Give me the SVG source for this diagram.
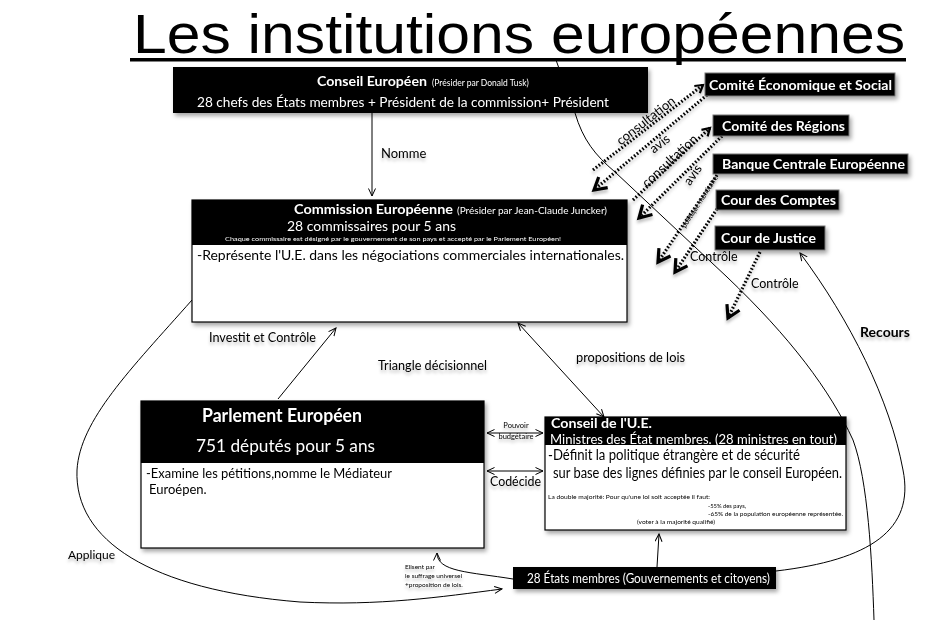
<svg xmlns="http://www.w3.org/2000/svg" width="934" height="623" viewBox="0 0 934 623">
<style>
text{font-family:Lato,"Open Sans","Liberation Sans",sans-serif;fill:#000}
text.ttl{font-family:"Liberation Sans",Arial,sans-serif}
.w{fill:#fff}
.b{font-weight:bold}
.box{fill:#fff;stroke:#000;stroke-width:1.2}
.hd{fill:#000}
.cb{fill:#000;stroke:#777;stroke-width:1}
.ln{fill:none;stroke:#000;stroke-width:1}
.dot{fill:none;stroke:#000;stroke-width:3.2;stroke-dasharray:1.6 2}
.lb{font-size:13px}
</style>
<defs>
<filter id="sh" x="-10%" y="-20%" width="130%" height="160%"><feDropShadow dx="2" dy="3" stdDeviation="2" flood-color="#000" flood-opacity="0.35"/></filter>
<filter id="tsh" x="-10%" y="-30%" width="120%" height="180%"><feDropShadow dx="0" dy="3" stdDeviation="1.5" flood-color="#000" flood-opacity="0.25"/></filter>
<marker id="a" markerUnits="userSpaceOnUse" markerWidth="10" markerHeight="10" refX="8" refY="4" orient="auto-start-reverse"><path d="M0.5,0.5 L8,4 L0.5,7.5" fill="none" stroke="#000" stroke-width="1"/></marker>
<marker id="cs" markerUnits="userSpaceOnUse" markerWidth="12" markerHeight="12" refX="9" refY="6" orient="auto"><path d="M1.5,1.5 L9,6 L1.5,10.5" fill="none" stroke="#000" stroke-width="2.2"/></marker>
<marker id="cl" markerUnits="userSpaceOnUse" markerWidth="18" markerHeight="18" refX="14" refY="9" orient="auto"><path d="M2,2 L14,9 L2,16" fill="none" stroke="#000" stroke-width="3.2"/></marker>
</defs>
<rect width="934" height="623" fill="#fff"/>

<g id="title">
<text class="ttl" x="133" y="53" font-size="56" textLength="772" lengthAdjust="spacingAndGlyphs">Les institutions européennes</text>
<rect x="130" y="58" width="776" height="3.5" fill="#000"/>
</g>

<g id="connectors">
<path class="ln" d="M556,60 L575,113 C583,140 595,155 615,172 L727,277 C790,337 830,390 853,440 C868,480 872,560 874,620"/>
<path class="ln" d="M372,113 L372,196" marker-end="url(#a)"/>
<path class="ln" d="M278,399 L336,328" marker-end="url(#a)"/>
<path class="ln" d="M518,323 L604,417" marker-start="url(#a)" marker-end="url(#a)"/>
<path class="ln" d="M487,433 L543,433" marker-start="url(#a)" marker-end="url(#a)"/>
<path class="ln" d="M487,471 L543,471" marker-start="url(#a)" marker-end="url(#a)"/>
<path class="ln" d="M657,567 L659,534" marker-end="url(#a)"/>
<path class="ln" d="M513,579 C470,572 437,572 437,553" marker-end="url(#a)"/>
<path class="ln" d="M192,300 C130,370 80,420 77,470 C74,540 150,590 300,602 C380,606 440,597 502,589" marker-end="url(#a)"/>
<path class="ln" d="M776,571 C870,560 915,530 903,470 C890,400 850,320 800,253" marker-end="url(#a)"/>
<g filter="url(#tsh)">
<path class="dot" d="M593,170 L703,85" marker-end="url(#cs)"/>
<path class="dot" d="M707,95 L594,190" marker-end="url(#cl)"/>
<path class="dot" d="M633,200 L710,128" marker-end="url(#cs)"/>
<path class="dot" d="M722,136 L639,218" marker-end="url(#cl)"/>
<path class="dot" d="M717,175 L658,262" marker-end="url(#cl)"/>
<path class="dot" d="M717,209 L675,272" marker-end="url(#cl)"/>
<path class="dot" d="M760,252 L728,318" marker-end="url(#cl)"/>
</g>
</g>

<g id="labels" filter="url(#tsh)">
<text class="lb" x="381" y="158">Nomme</text>
<text class="lb" x="209" y="342" textLength="107" lengthAdjust="spacingAndGlyphs">Investit et Contrôle</text>
<text class="lb" x="378" y="370" textLength="109" lengthAdjust="spacingAndGlyphs">Triangle décisionnel</text>
<text class="lb" x="576" y="362" textLength="109" lengthAdjust="spacingAndGlyphs">propositions de lois</text>
<text class="b" x="860" y="337" font-size="14">Recours</text>
<text x="68" y="559" font-size="12">Applique</text>
<text x="516" y="428" font-size="7.5" text-anchor="middle">Pouvoir</text>
<text x="516" y="439" font-size="7.5" text-anchor="middle">budgétaire</text>
<text x="490" y="486" font-size="14" textLength="51" lengthAdjust="spacingAndGlyphs">Codécide</text>
<text x="405" y="569" font-size="6.5">Elisent par</text>
<text x="405" y="578" font-size="6.5">le suffrage universel</text>
<text x="405" y="587" font-size="6.5">+proposition de lois.</text>
<text x="646" y="125" font-size="13" text-anchor="middle" transform="rotate(-38 646 121)">consultation</text>
<text x="660" y="148" font-size="13" text-anchor="middle" transform="rotate(-38 660 144)">avis</text>
<text x="670" y="165" font-size="13" text-anchor="middle" transform="rotate(-43 670 161)">consultation</text>
<text x="693" y="179" font-size="13" text-anchor="middle" transform="rotate(-55 693 175)">avis</text>
<text x="700" y="204" font-size="7" text-anchor="middle" transform="rotate(-57 700 202)">politique monétaire</text>
<text x="690" y="261" font-size="12.5">Contrôle</text>
<text x="751" y="288" font-size="12.5">Contrôle</text>
</g>

<g id="conseil-europeen" filter="url(#sh)">
<rect class="hd" x="173" y="67" width="475" height="46"/>
<text class="w b" x="317" y="86" font-size="13" textLength="110" lengthAdjust="spacingAndGlyphs">Conseil Européen</text>
<text class="w" x="432" y="86" font-size="8.5">(Présider par Donald Tusk)</text>
<text class="w" x="197" y="107" font-size="14" textLength="412" lengthAdjust="spacingAndGlyphs">28 chefs des États membres + Président de la commission+ Président</text>
</g>

<g id="comite-eco" filter="url(#sh)">
<rect class="cb" x="705" y="73" width="190" height="23"/>
<text class="w b" x="709" y="90" font-size="13" textLength="183" lengthAdjust="spacingAndGlyphs">Comité Économique et Social</text>
</g>
<g id="comite-regions" filter="url(#sh)">
<rect class="cb" x="713" y="115" width="136" height="21"/>
<text class="w b" x="722" y="131" font-size="13" textLength="123" lengthAdjust="spacingAndGlyphs">Comité des Régions</text>
</g>
<g id="bce" filter="url(#sh)">
<rect class="cb" x="713" y="154" width="195" height="20"/>
<text class="w b" x="722" y="169" font-size="13" textLength="183" lengthAdjust="spacingAndGlyphs">Banque Centrale Européenne</text>
</g>
<g id="cour-comptes" filter="url(#sh)">
<rect class="cb" x="716" y="190" width="123" height="20"/>
<text class="w b" x="721" y="205" font-size="13" textLength="115" lengthAdjust="spacingAndGlyphs">Cour des Comptes</text>
</g>
<g id="cour-justice" filter="url(#sh)">
<rect class="cb" x="715" y="226" width="110" height="24"/>
<text class="w b" x="721" y="243" font-size="13" textLength="95" lengthAdjust="spacingAndGlyphs">Cour de Justice</text>
</g>

<g id="commission" filter="url(#sh)">
<rect class="box" x="192" y="200" width="435" height="122"/>
<rect class="hd" x="192" y="200" width="435" height="45"/>
<text class="w b" x="294" y="214" font-size="12.5" textLength="159" lengthAdjust="spacingAndGlyphs">Commission Européenne</text>
<text class="w" x="457" y="214" font-size="9" textLength="150" lengthAdjust="spacingAndGlyphs">(Présider par Jean-Claude Juncker)</text>
<text class="w" x="287" y="231" font-size="13.5" textLength="169" lengthAdjust="spacingAndGlyphs">28 commissaires pour 5 ans</text>
<text class="w" x="225" y="241" font-size="5.5" textLength="336" lengthAdjust="spacingAndGlyphs">Chaque commissaire est désigné par le gouvernement de son pays et accepté par le Parlement Européen!</text>
<text x="197" y="260" font-size="14" textLength="427" lengthAdjust="spacingAndGlyphs">-Représente l'U.E. dans les négociations commerciales internationales.</text>
</g>

<g id="parlement" filter="url(#sh)">
<rect class="box" x="141" y="401" width="343" height="147"/>
<rect class="hd" x="141" y="401" width="343" height="62"/>
<text class="w b" x="202" y="422" font-size="19" textLength="160" lengthAdjust="spacingAndGlyphs">Parlement Européen</text>
<text class="w" x="196" y="452" font-size="18" textLength="179" lengthAdjust="spacingAndGlyphs">751 députés pour 5 ans</text>
<text x="146" y="478" font-size="13" textLength="246" lengthAdjust="spacingAndGlyphs">-Examine les pétitions,nomme le Médiateur</text>
<text x="149" y="494" font-size="13">Euroépen.</text>
</g>

<g id="conseil-ue" filter="url(#sh)">
<rect class="box" x="545" y="417" width="301" height="113"/>
<rect class="hd" x="545" y="417" width="301" height="28"/>
<text class="w b" x="551" y="427.5" font-size="12.5" textLength="101" lengthAdjust="spacingAndGlyphs">Conseil de l'U.E.</text>
<text class="w" x="550" y="443.5" font-size="12.5" textLength="287" lengthAdjust="spacingAndGlyphs">Ministres des État membres. (28 ministres en tout)</text>
<text x="548" y="460" font-size="14.5" textLength="252" lengthAdjust="spacingAndGlyphs">-Définit la politique étrangère et de sécurité</text>
<text x="553" y="478" font-size="14.5" textLength="289" lengthAdjust="spacingAndGlyphs">sur base des lignes définies par le conseil Européen.</text>
<text x="548" y="499" font-size="5.8" textLength="162" lengthAdjust="spacingAndGlyphs">La double majorité: Pour qu'une loi soit acceptée il faut:</text>
<text x="708" y="508" font-size="5.8">-55% des pays,</text>
<text x="708" y="516" font-size="5.8" textLength="135" lengthAdjust="spacingAndGlyphs">-65% de la population européenne représentée.</text>
<text x="637" y="524" font-size="5.8" textLength="78" lengthAdjust="spacingAndGlyphs">(voter à la majorité qualifié)</text>
</g>

<g id="etats-membres" filter="url(#sh)">
<rect class="hd" x="513" y="567" width="263" height="22"/>
<text class="w" x="527" y="583" font-size="13.5" textLength="243" lengthAdjust="spacingAndGlyphs">28  États membres (Gouvernements et citoyens)</text>
</g>
</svg>
